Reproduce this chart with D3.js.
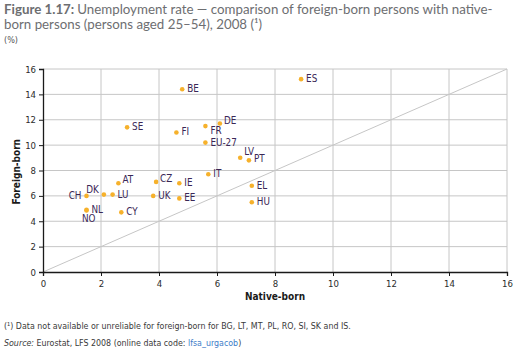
<!DOCTYPE html>
<html>
<head>
<meta charset="utf-8">
<script src="https://cdn.jsdelivr.net/npm/d3@7"></script>
<style>
  body { margin: 0; background: #fff; }
  svg text { font-family: "DejaVu Sans Condensed", "Liberation Sans Narrow", sans-serif; }
</style>
</head>
<body>
<div id="chart"></div>
<script>
// country codes, native-born rate, foreign-born rate
let countries = ['ES', 'BE', 'SE', 'FI', 'FR', 'DE', 'EU-27', 'LV', 'PT', 'IT', 'AT', 'CZ', 'IE',
                 'DK', 'LU', 'CH', 'UK', 'EE', 'NL', 'NO', 'CY', 'EL', 'HU'];
let nativeBorn = [8.9, 4.8, 2.9, 4.6, 5.6, 6.1, 5.6, 6.8, 7.1, 5.7, 2.6, 3.9, 4.7,
                  2.1, 2.4, 1.5, 3.8, 4.7, 1.5, 1.5, 2.7, 7.2, 7.2];
let foreignBorn = [15.2, 14.4, 11.4, 11.0, 11.5, 11.7, 10.2, 9.0, 8.8, 7.7, 7.0, 7.1, 7.0,
                   6.1, 6.1, 6.0, 6.0, 5.8, 4.9, 4.85, 4.7, 6.8, 5.5];
// where each label sits next to its dot
let labelPlace = {DE: 'above', FR: 'below', LV: 'high', DK: 'leftAbove', CH: 'left', NO: 'belowLeft', AT: 'above', CZ: 'above', PT: 'slightUp'};
let ticks = [0, 2, 4, 6, 8, 10, 12, 14, 16];

let data = countries.map(function(c, i) {
  return {code: c, x: nativeBorn[i], y: foreignBorn[i]};
});

let width = 516, height = 351;
let margin = {top: 69, left: 43, right: 9, bottom: 79};

let svg = d3.select("#chart").append("svg")
            .attr("width", width)
            .attr("height", height);

let xScale = d3.scaleLinear().domain([0, 16]).range([margin.left, width - margin.right]);
let yScale = d3.scaleLinear().domain([0, 16]).range([height - margin.bottom, margin.top]);

// title
let titleFont = "Lato, 'Open Sans', sans-serif";
let fig = svg.append("text").attr("x", 4).attr("y", 14)
             .attr("font-size", 13.3).attr("fill", "#6d6e71").attr("font-weight", "bold")
             .style("font-family", titleFont)
             .text("Figure 1.17:");
let figW = fig.node().getComputedTextLength();
svg.append("text").attr("x", 4 + figW + 3).attr("y", 14)
   .attr("font-size", 13.3).attr("fill", "#6d6e71")
   .style("font-family", titleFont)
   .text("Unemployment rate \u2014 comparison of foreign-born persons with native-");
svg.append("text").attr("x", 4).attr("y", 29)
   .attr("font-size", 13.3).attr("fill", "#6d6e71")
   .style("font-family", titleFont)
   .text("born persons (persons aged 25\u201354), 2008 (\u00b9)");
svg.append("text").attr("x", 4).attr("y", 43)
   .attr("font-size", 9).attr("fill", "#555")
   .text("(%)");

// grid
svg.append("g").selectAll("line.v")
   .data(ticks.slice(1))
   .enter().append("line")
   .attr("x1", d => xScale(d)).attr("x2", d => xScale(d))
   .attr("y1", yScale(0)).attr("y2", yScale(16))
   .attr("stroke", "#c6c6c6").attr("stroke-width", 1);
svg.append("g").selectAll("line.h")
   .data(ticks.slice(1))
   .enter().append("line")
   .attr("y1", d => yScale(d)).attr("y2", d => yScale(d))
   .attr("x1", xScale(0)).attr("x2", xScale(16))
   .attr("stroke", "#c6c6c6").attr("stroke-width", 1);

// diagonal x = y
svg.append("line")
   .attr("x1", xScale(0)).attr("y1", yScale(0))
   .attr("x2", xScale(16)).attr("y2", yScale(16))
   .attr("stroke", "#c6c6c6").attr("stroke-width", 1);

/* axes */
let yAxis = d3.axisLeft(yScale).tickValues(ticks).tickSize(4).tickPadding(3);
let gy = svg.append("g")
   .attr("transform", "translate(" + xScale(0) + ",0)")
   .call(yAxis);

let xAxis = d3.axisBottom(xScale).tickValues(ticks).tickSize(4).tickPadding(4);
let gx = svg.append("g")
   .attr("transform", "translate(0," + yScale(0) + ")")
   .call(xAxis);

[gx, gy].forEach(function(g) {
  g.select(".domain").attr("stroke", "#1a1a1a").attr("stroke-width", 1.3);
  g.selectAll(".tick line").attr("stroke", "#1a1a1a");
  g.selectAll(".tick text").attr("fill", "#2b2b2b").attr("font-size", 9.5)
   .style("font-family", "'DejaVu Sans Condensed', sans-serif");
});

svg.append("text")
   .attr("x", xScale(8)).attr("y", 300)
   .attr("text-anchor", "middle").attr("font-size", 10).attr("font-weight", "bold")
   .attr("fill", "#1a1a1a").text("Native-born");
svg.append("text")
   .attr("transform", "translate(20," + yScale(7.9) + ") rotate(-90)")
   .attr("text-anchor", "middle").attr("font-size", 10).attr("font-weight", "bold")
   .attr("fill", "#1a1a1a").text("Foreign-born");

// points
svg.append("g").selectAll("circle")
   .data(data)
   .enter().append("circle")
   .attr("cx", d => xScale(d.x))
   .attr("cy", d => yScale(d.y))
   .attr("r", 2.3)
   .attr("fill", "#f6b12b");

svg.append("g").selectAll("text")
   .data(data)
   .enter().append("text")
   .attr("font-size", 9.8)
   .attr("fill", "#3a2756")
   .attr("text-anchor", function(d) {
     let p = labelPlace[d.code];
     return (p == 'left' || p == 'leftAbove' || p == 'belowLeft') ? "end" : "start";
   })
   .attr("x", function(d) {
     let p = labelPlace[d.code];
     if (p == 'left' || p == 'leftAbove') return xScale(d.x) - 5;
     if (p == 'belowLeft') return xScale(d.x) + 9;
     if (p == 'above' || p == 'high') return xScale(d.x) + 4;
     return xScale(d.x) + 5;
   })
   .attr("y", function(d) {
     let p = labelPlace[d.code];
     if (p == 'above') return yScale(d.y) + 0;
     if (p == 'high') return yScale(d.y) - 2.5;
     if (p == 'slightUp') return yScale(d.y) + 1.5;
     if (p == 'leftAbove') return yScale(d.y) - 2;
     if (p == 'below') return yScale(d.y) + 8;
     if (p == 'belowLeft') return yScale(d.y) + 12;
     return yScale(d.y) + 3;
   })
   .text(d => d.code);

// notes
svg.append("text").attr("x", 4).attr("y", 329)
   .attr("font-size", 8.8).attr("fill", "#3a3a3a")
   .text("(\u00b9)  Data not available or unreliable for foreign-born for BG, LT, MT, PL, RO, SI, SK and IS.");
let src = svg.append("text").attr("x", 4).attr("y", 346)
   .attr("font-size", 8.8).attr("fill", "#3a3a3a");
src.append("tspan").attr("font-style", "italic").text("Source:");
src.append("tspan").text(" Eurostat, LFS 2008 (online data code: ");
src.append("tspan").attr("fill", "#3d7cc9").text("lfsa_urgacob");
src.append("tspan").text(")");
</script>
</body>
</html>
